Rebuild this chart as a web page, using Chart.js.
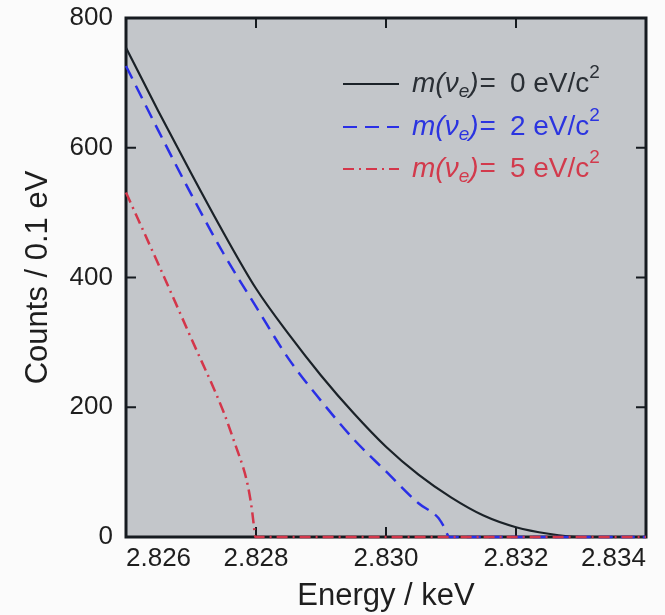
<!DOCTYPE html>
<html>
<head>
<meta charset="utf-8">
<script src="https://cdn.jsdelivr.net/npm/chart.js@4.4.1/dist/chart.umd.min.js"></script>
<style>
  html, body { margin: 0; padding: 0; background: #fbfbfb; }
  #wrap { width: 665px; height: 615px; }
</style>
</head>
<body>
<div id="wrap"><canvas id="spectrum" width="665" height="615"></canvas></div>
<script>
// energies (keV) and counts, one pair of arrays per neutrino mass
const energy0 = [2.8260, 2.8265, 2.8270, 2.8275, 2.8280, 2.8285, 2.8290, 2.8295, 2.8300, 2.8305, 2.8310, 2.8315, 2.8320, 2.8325, 2.8330, 2.8340];
const counts0 = [754, 656, 561, 469, 383, 313, 249, 191, 139, 96, 61, 33, 15, 5, 0, 0];

const energy2 = [2.8260, 2.8265, 2.8270, 2.8275, 2.8280, 2.8285, 2.8290, 2.8295, 2.8300, 2.8305, 2.8308, 2.83088, 2.83098, 2.8340];
const counts2 = [726, 626, 529, 437, 355, 275, 210, 151, 101, 52, 30, 18, 0, 0];

const energy5 = [2.8260, 2.8265, 2.8270, 2.8275, 2.8277, 2.8278, 2.82785, 2.8279, 2.82794, 2.82797, 2.82799, 2.8340];
const counts5 = [531, 420, 307, 193, 137, 108, 90, 66, 40, 15, 0, 0];

const xTicks = [2.826, 2.828, 2.830, 2.832, 2.834];
const yTicks = [0, 200, 400, 600, 800];

const massLabels = ['0', '2', '5'];
const lineColors = ['#1b2228', '#2a2fe6', '#d4364a'];
const textColors = ['#2a2f35', '#2b34e0', '#d23a4c'];
const lineDashes = [[], [14, 8], [11, 5, 2, 5]];

function toPoints(xs, ys) {
    return xs.map((x, i) => ({ x: x, y: ys[i] }));
}

const FONT = '"Liberation Sans", Arial, sans-serif';

// plot background, frame, inward ticks and the legend
const framePlugin = {
    id: 'frame',
    beforeDraw(chart) {
        const { ctx, chartArea: a } = chart;
        ctx.save();
        ctx.fillStyle = '#c3c6ca';
        ctx.fillRect(a.left, a.top, a.right - a.left, a.bottom - a.top);
        ctx.restore();
    },
    beforeDatasetsDraw(chart) {
        const { ctx, chartArea: a, scales } = chart;
        ctx.save();
        ctx.strokeStyle = '#161b20';
        ctx.lineWidth = 2;
        ctx.beginPath();
        const len = 10;
        xTicks.slice(1, -1).forEach(v => {
            const px = scales.x.getPixelForValue(v);
            ctx.moveTo(px, a.bottom); ctx.lineTo(px, a.bottom - len);
            ctx.moveTo(px, a.top); ctx.lineTo(px, a.top + len);
        });
        yTicks.slice(1, -1).forEach(v => {
            const py = scales.y.getPixelForValue(v);
            ctx.moveTo(a.left, py); ctx.lineTo(a.left + len, py);
            ctx.moveTo(a.right, py); ctx.lineTo(a.right - len, py);
        });
        ctx.stroke();
        ctx.lineWidth = 3;
        ctx.strokeRect(a.left, a.top, a.right - a.left, a.bottom - a.top);
        ctx.restore();
    },
    afterDraw(chart) {
        const { ctx } = chart;
        const x0 = 343, x1 = 399, tx = 412;
        const rows = [84, 127, 169];
        ctx.save();
        ctx.textBaseline = 'middle';
        massLabels.forEach((m, i) => {
            const y = rows[i];
            ctx.strokeStyle = lineColors[i];
            ctx.lineWidth = 2.2;
            ctx.setLineDash(lineDashes[i]);
            ctx.beginPath();
            ctx.moveTo(x0, y); ctx.lineTo(x1, y);
            ctx.stroke();
            ctx.setLineDash([]);
            ctx.fillStyle = textColors[i];
            let x = tx;
            const part = (txt, font, dy, gap) => {
                ctx.font = font;
                ctx.fillText(txt, x, y + dy);
                x += ctx.measureText(txt).width + (gap || 0);
            };
            part('m(ν', 'italic 28px ' + FONT, 0);
            part('e', 'italic 19px ' + FONT, 8);
            part(')', 'italic 28px ' + FONT, 0, 1);
            part('=', '28px ' + FONT, 0, 14);
            part(m + ' eV/c', '28px ' + FONT, 0);
            part('2', '19px ' + FONT, -11);
        });
        ctx.restore();
    }
};

const spectrumCtx = document.getElementById('spectrum').getContext('2d');

new Chart(spectrumCtx, {
    type: 'line',
    data: {
        datasets: [
            { data: toPoints(energy0, counts0), order: 3 },
            { data: toPoints(energy2, counts2), order: 2 },
            { data: toPoints(energy5, counts5), order: 1 }
        ].map((d, i) => Object.assign(d, {
            label: 'm(νe) = ' + massLabels[i] + ' eV/c²',
            borderColor: lineColors[i],
            borderDash: lineDashes[i],
            borderWidth: i === 0 ? 2.2 : 2.5,
            pointRadius: 0,
            fill: false,
            cubicInterpolationMode: 'monotone',
            clip: 4
        }))
    },
    options: {
        responsive: false,
        animation: false,
        layout: { padding: { left: 0, right: 19, top: 18, bottom: 0 } },
        plugins: {
            legend: { display: false },
            tooltip: { enabled: false }
        },
        scales: {
            x: {
                type: 'linear',
                min: 2.826,
                max: 2.834,
                afterBuildTicks(scale) { scale.ticks = xTicks.map(v => ({ value: v })); },
                afterFit(scale) {
                    scale.height = 78;
                    scale.paddingLeft = 0;
                    scale.paddingRight = 0;
                },
                grid: { display: false, drawTicks: false },
                border: { display: false },
                ticks: {
                    align: 'inner',
                    padding: 6,
                    color: '#1e1e1e',
                    font: { family: FONT, size: 26 },
                    callback: v => v.toFixed(3)
                },
                title: {
                    display: true,
                    text: 'Energy / keV',
                    color: '#1e1e1e',
                    font: { family: FONT, size: 31 },
                    padding: { top: 0, bottom: 0 }
                }
            },
            y: {
                min: 0,
                max: 800,
                afterBuildTicks(scale) { scale.ticks = yTicks.map(v => ({ value: v })); },
                afterFit(scale) {
                    scale.width = 126;
                    scale.paddingTop = 0;
                    scale.paddingBottom = 0;
                },
                grid: { display: false, drawTicks: false },
                border: { display: false },
                ticks: {
                    padding: 13,
                    color: '#1e1e1e',
                    font: { family: FONT, size: 26 }
                },
                title: {
                    display: true,
                    text: 'Counts / 0.1 eV',
                    color: '#1e1e1e',
                    font: { family: FONT, size: 31 },
                    padding: { top: 20, bottom: 0 }
                }
            }
        }
    },
    plugins: [framePlugin]
});
</script>
</body>
</html>
